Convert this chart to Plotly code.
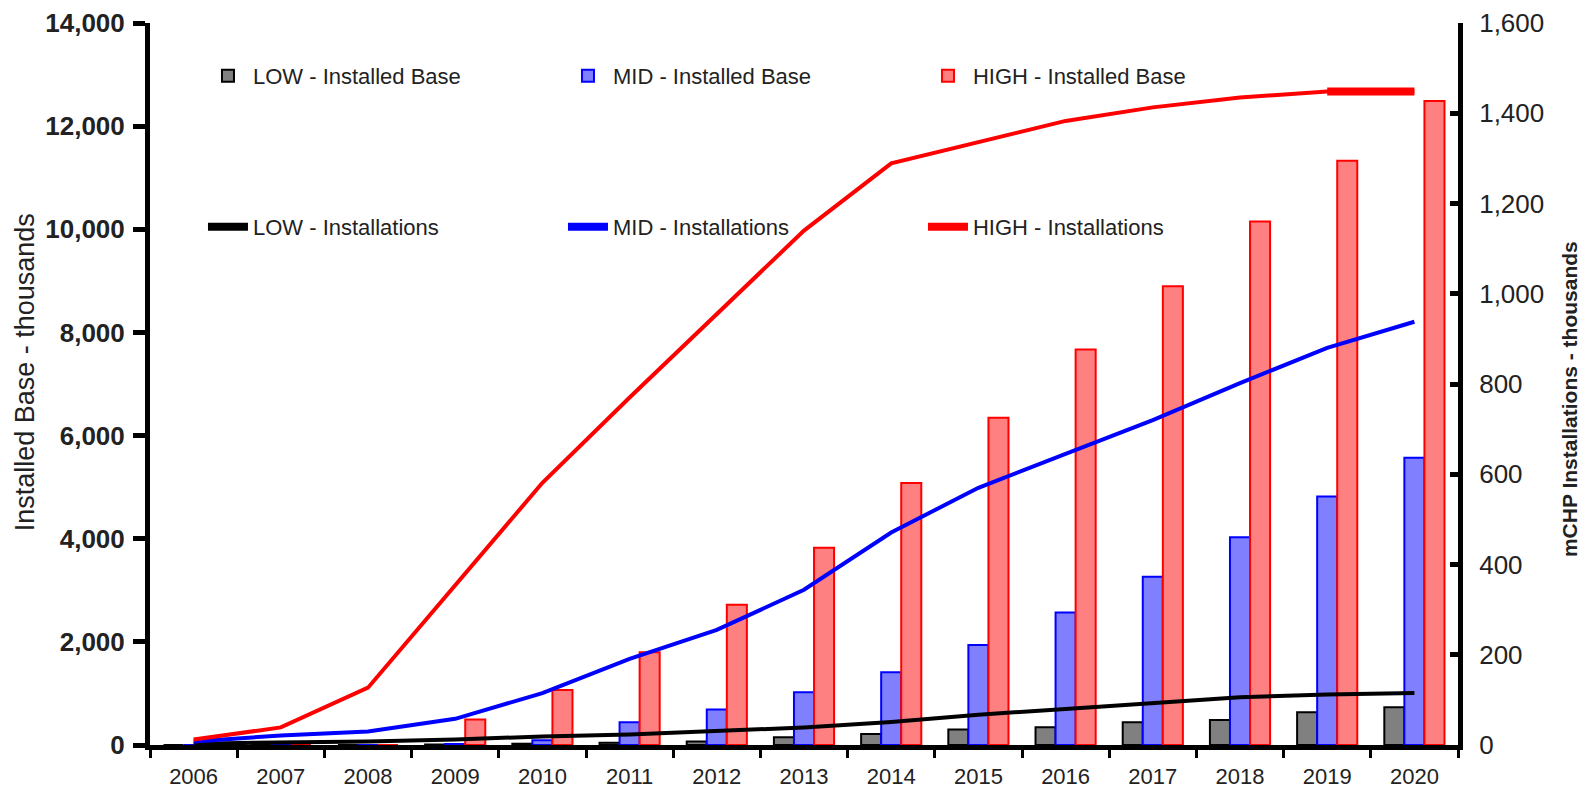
import plotly.graph_objects as go

years = ["2006", "2007", "2008", "2009", "2010", "2011", "2012", "2013",
         "2014", "2015", "2016", "2017", "2018", "2019", "2020"]

# Installed base (thousands) - left axis
low_base = [0, 0, 0, 10, 25, 45, 70, 150, 215, 300, 345, 442, 487, 636, 732]
mid_base = [0, 0, 0, 20, 90, 442, 687, 1022, 1409, 1939, 2571, 3262, 4030, 4820, 5571]
high_base = [0, 0, 0, 494, 1068, 1797, 2720, 3823, 5081, 6345, 7669, 8895, 10153, 11328, 12489]

# mCHP installations (thousands) - right axis
low_inst = [3, 5, 8, 12, 19, 23, 30, 39, 51, 67, 80, 92, 106, 112, 115]
mid_inst = [8, 21, 30, 58, 115, 191, 255, 344, 471, 570, 645, 720, 802, 880, 938]
high_inst = [12, 39, 127, 355, 581, 770, 955, 1140, 1289, 1336, 1383, 1413, 1435, 1448, 1448]

FONT = "Liberation Sans, Arial, sans-serif"

fig = go.Figure()

bar_specs = [
    ("LOW - Installed Base", low_base, "#808080", "#000000"),
    ("MID - Installed Base", mid_base, "#8080FF", "#0000FF"),
    ("HIGH - Installed Base", high_base, "#FF8080", "#FF0000"),
]
for name, vals, fill, edge in bar_specs:
    fig.add_trace(go.Bar(
        x=years, y=vals, name=name, yaxis="y", legend="legend",
        marker=dict(color=fill, line=dict(color=edge, width=2)),
    ))

line_specs = [
    ("LOW - Installations", low_inst, "#000000"),
    ("MID - Installations", mid_inst, "#0000FF"),
    ("HIGH - Installations", high_inst, "#FF0000"),
]
for name, vals, col in line_specs:
    fig.add_trace(go.Scatter(
        x=years, y=vals, name=name, yaxis="y2", showlegend=False,
        mode="lines", line=dict(color=col, width=4),
    ))

# thicker final segment of the HIGH installations line
fig.add_trace(go.Scatter(
    x=years[-2:], y=high_inst[-2:], yaxis="y2", showlegend=False,
    mode="lines", line=dict(color="#FF0000", width=8),
))

# legend keys for the installation lines (drawn thicker, as in the original key)
for name, vals, col in line_specs:
    fig.add_trace(go.Scatter(
        x=[None], y=[None], name=name, yaxis="y2", legend="legend2",
        mode="lines", line=dict(color=col, width=8),
    ))

legend_common = dict(
    orientation="h", xanchor="left", yanchor="middle",
    entrywidth=305, entrywidthmode="pixels",
    font=dict(family=FONT, size=22, color="#222222"),
    bgcolor="rgba(0,0,0,0)", traceorder="normal", itemwidth=40,
)

fig.update_layout(
    width=1572, height=785,
    paper_bgcolor="white", plot_bgcolor="white",
    margin=dict(l=142, r=122, t=15, b=48, autoexpand=False),
    barmode="group", bargap=0.31, bargroupgap=0,
    showlegend=True,
    legend=dict(x=0.0405, y=0.9266, **legend_common),
    legend2=dict(x=0.0405, y=0.7175, **legend_common),
    xaxis=dict(
        type="category", range=[-0.5, 14.5], automargin=False,
        showline=True, linecolor="black", linewidth=5,
        ticks="outside", tickson="boundaries", ticklen=8, tickwidth=3, tickcolor="black",
        ticklabelstandoff=8,
        tickfont=dict(family=FONT, size=22, color="#222222"),
        showgrid=False, zeroline=False,
    ),
    yaxis=dict(
        range=[0, 14000], dtick=2000, tickformat=",", automargin=False,
        showline=True, linecolor="black", linewidth=5,
        ticks="outside", ticklen=12, tickwidth=5, tickcolor="black",
        ticklabelstandoff=3,
        tickfont=dict(family=FONT, size=26, color="#222222", weight="bold"),
        showgrid=False, zeroline=False,
    ),
    yaxis2=dict(
        overlaying="y", side="right", range=[0, 1600], dtick=200, tickformat=",",
        automargin=False,
        showline=True, linecolor="black", linewidth=5,
        ticks="inside", ticklen=8, tickwidth=5, tickcolor="black",
        ticklabelstandoff=11,
        tickfont=dict(family=FONT, size=26, color="#222222"),
        showgrid=False, zeroline=False,
    ),
    annotations=[
        dict(text="Installed Base - thousands", textangle=-90,
             xref="paper", yref="paper", x=-0.0953, y=0.5166,
             xanchor="center", yanchor="middle", showarrow=False,
             font=dict(family=FONT, size=27, color="#222222")),
        dict(text="mCHP Installations - thousands", textangle=-90,
             xref="paper", yref="paper", x=1.0849, y=0.4792,
             xanchor="center", yanchor="middle", showarrow=False,
             font=dict(family=FONT, size=21, color="#222222", weight="bold")),
    ],
)

fig.write_html("out.html")
